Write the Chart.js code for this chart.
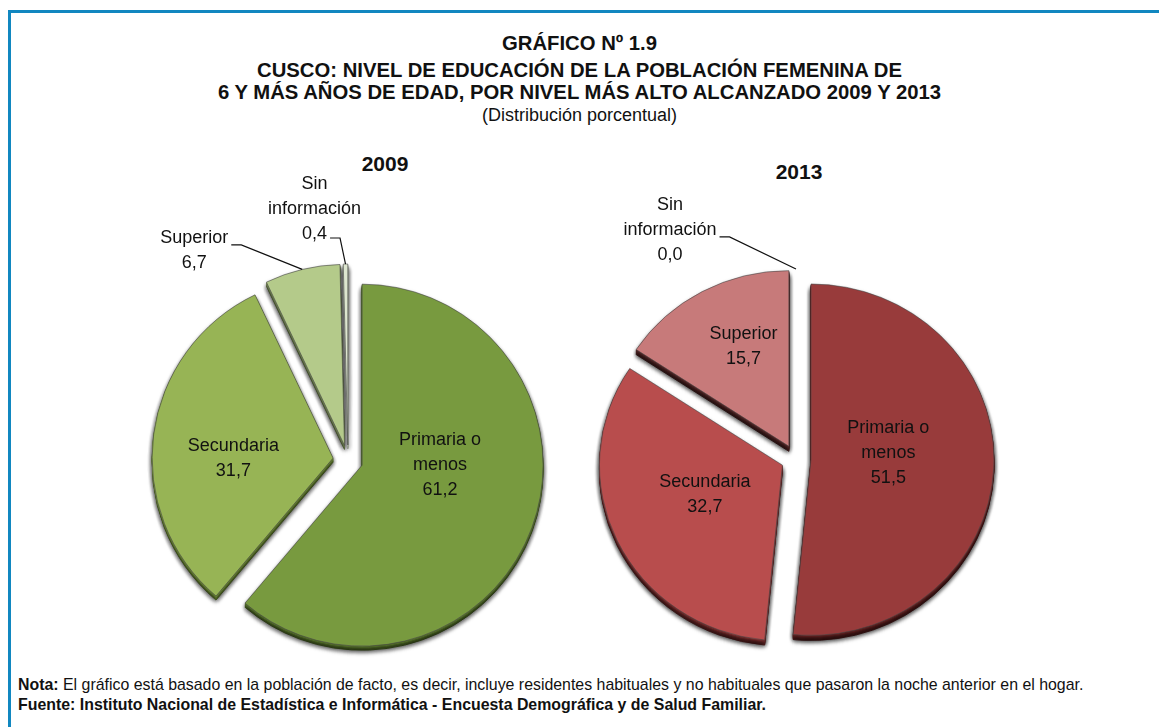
<!DOCTYPE html>
<html>
<head>
<meta charset="utf-8">
<script src="https://cdn.jsdelivr.net/npm/chart.js@4"></script>
<style>
  body { margin:0; background:#fff; width:1159px; height:727px; overflow:hidden; position:relative; font-family:"Liberation Sans", Arial, sans-serif; }
  #frame { position:absolute; left:8px; top:10px; width:1170px; height:740px; border-top:3px solid #1187c0; border-left:3px solid #1187c0; }
  .title { position:absolute; left:0; width:1159px; text-align:center; color:#111; }
  .t-bold { font-weight:bold; font-size:20.3px; }
  .year { position:absolute; width:100px; text-align:center; font-weight:bold; font-size:21px; color:#111; }
  .note { position:absolute; left:18px; font-size:15.9px; color:#111; white-space:nowrap; }
  canvas { position:absolute; left:0; top:0; }
</style>
</head>
<body>
<div id="frame"></div>
<div class="title t-bold" style="top:32px">GRÁFICO Nº 1.9</div>
<div class="title t-bold" style="top:59px">CUSCO: NIVEL DE EDUCACIÓN DE LA POBLACIÓN FEMENINA DE</div>
<div class="title t-bold" style="top:81px">6 Y MÁS AÑOS DE EDAD, POR NIVEL MÁS ALTO ALCANZADO 2009 Y 2013</div>
<div class="title" style="top:105px;font-size:18px">(Distribución porcentual)</div>
<div class="year" style="left:335px;top:152px">2009</div>
<div class="year" style="left:749px;top:160px">2013</div>
<div class="note" style="top:676px"><b>Nota:</b> El gráfico está basado en la población de facto, es decir, incluye residentes habituales y no habituales que pasaron la noche anterior en el hogar.</div>
<div class="note" style="top:696px"><b>Fuente: Instituto Nacional de Estadística e Informática - Encuesta Demográfica y de Salud Familiar.</b></div>
<canvas id="c2009" width="1159" height="727"></canvas>
<canvas id="c2013" width="1159" height="727"></canvas>
<script>
const categories = ['Primaria o menos', 'Secundaria', 'Superior', 'Sin información']
const labelLines = [['Primaria o', 'menos'], ['Secundaria'], ['Superior'], ['Sin', 'información']]
const values2009 = [61.2, 31.7, 6.7, 0.4]
const values2013 = [51.5, 32.7, 15.7, 0.0]
const colors2009 = ['#789a3f', '#97b455', '#b4ca8a', '#dde6cf']
const sides2009 = ['#506a28', '#637e30', '#6f8150', '#a0a898']
const colors2013 = ['#983b3b', '#b84d4d', '#c77a7a', '#e0b5b5']
const sides2013 = ['#5a1f1f', '#6e2a2a', '#4e2424', '#8a6060']

function fmt(v) { return v.toFixed(1).replace('.', ',') }

// label layout: inside labels use fraction of radius + nudge, outside ones get a leader line
const layout2009 = [
  { f: 0.5, dx: -7, dy: -31 },
  { f: 0.5, dx: -10, dy: 12 },
  { out: true, dx: -108, dy: -19, lead: 0, ly: 7 },
  { out: true, dx: -31, dy: -55, lead: 2, ly: 4 }
]
const layout2013 = [
  { f: 0.5, dx: -14, dy: -11 },
  { f: 0.5, dx: 5, dy: -8 },
  { f: 0.65, dx: 11, dy: 1 },
  { out: true, dx: -126, dy: -39, lead: 1, ly: 7 }
]

function midAngle(arc) {
  return (arc.startAngle + arc.endAngle) / 2
}

// pie squashed into an ellipse, slices pulled apart and given a bit of depth
const piePlugin = {
  id: 'pie3d',
  beforeDatasetDraw(chart, args) {
    const o = chart.options.plugins.pie3d
    const ctx = chart.ctx
    const arcs = args.meta.data
    const c = arcs[0]
    ctx.save()
    ctx.translate(c.x, c.y)
    ctx.scale(1, o.sy)
    ctx.translate(-c.x, -c.y)
    ctx.save()
    ctx.shadowColor = 'rgba(0,0,0,0.3)'
    ctx.shadowBlur = 5
    ctx.shadowOffsetY = 2
    arcs.forEach((arc, i) => {
      const m = midAngle(arc)
      const saved = arc.options
      arc.options = Object.assign({}, saved, { backgroundColor: o.sides[i], borderColor: o.sides[i] })
      for (let d = o.depth; d > 0; d--) {
        ctx.save()
        ctx.translate(Math.cos(m) * o.explode, Math.sin(m) * o.explode + d / o.sy)
        arc.draw(ctx)
        ctx.restore()
      }
      arc.options = saved
    })
    ctx.restore()
    arcs.forEach(arc => {
      const m = midAngle(arc)
      ctx.save()
      ctx.translate(Math.cos(m) * o.explode, Math.sin(m) * o.explode)
      arc.draw(ctx)
      ctx.restore()
    })
    ctx.restore()
    return false
  },
  afterDraw(chart) {
    const o = chart.options.plugins.pie3d
    const sy = o.sy
    const ctx = chart.ctx
    const meta = chart.getDatasetMeta(0)
    const vals = chart.data.datasets[0].data
    const lh = 25
    ctx.save()
    ctx.font = '18px "Liberation Sans", Arial, sans-serif'
    ctx.fillStyle = '#111'
    ctx.textAlign = 'center'
    ctx.textBaseline = 'middle'
    meta.data.forEach((arc, i) => {
      const mid = midAngle(arc)
      const ox = arc.x + Math.cos(mid) * o.explode
      const oy = arc.y + Math.sin(mid) * o.explode * sy
      const lay = o.layout[i]
      const lines = labelLines[i].concat([fmt(vals[i])])
      let cx, cy, anchor
      if (lay.out) {
        anchor = [ox + Math.cos(mid) * arc.outerRadius, oy + Math.sin(mid) * arc.outerRadius * sy]
        cx = anchor[0] + lay.dx
        cy = anchor[1] + lay.dy
      } else {
        cx = ox + Math.cos(mid) * arc.outerRadius * lay.f + lay.dx
        cy = oy + Math.sin(mid) * arc.outerRadius * lay.f * sy + lay.dy
      }
      const top = cy - (lines.length - 1) * lh / 2
      lines.forEach((t, k) => ctx.fillText(t, cx, top + k * lh))
      if (lay.out) {
        const w = ctx.measureText(lines[lay.lead]).width
        const ly = top + lay.lead * lh + lay.ly
        const x0 = cx + w / 2 + 3
        ctx.beginPath()
        ctx.strokeStyle = '#111'
        ctx.lineWidth = 1.2
        ctx.moveTo(x0, ly)
        ctx.lineTo(x0 + 10, ly)
        ctx.lineTo(anchor[0], anchor[1])
        ctx.stroke()
      }
    })
    ctx.restore()
  }
}

function makePie(id, values, colors, sides, pad, radius, sy, depth, lay) {
  return new Chart(document.getElementById(id), {
    type: 'pie',
    data: {
      labels: categories,
      datasets: [{
        data: values,
        backgroundColor: colors,
        borderColor: 'rgba(70,70,70,0.6)',
        borderWidth: 1
      }]
    },
    options: {
      responsive: false,
      animation: false,
      radius: radius,
      layout: { padding: pad },
      plugins: {
        legend: { display: false },
        tooltip: { enabled: false },
        pie3d: { sy: sy, explode: 15, depth: depth, sides: sides, layout: lay }
      }
    },
    plugins: [piePlugin]
  })
}

makePie('c2009', values2009, colors2009, sides2009,
  { left: 0, right: 1159 - 2 * 348, top: 2 * 460 - 727, bottom: 0 }, 181, 1.0, 4, layout2009)
makePie('c2013', values2013, colors2013, sides2013,
  { left: 2 * 796 - 1159, right: 0, top: 2 * 459 - 727, bottom: 0 }, 183, 0.96, 5, layout2013)
</script>
</body>
</html>
